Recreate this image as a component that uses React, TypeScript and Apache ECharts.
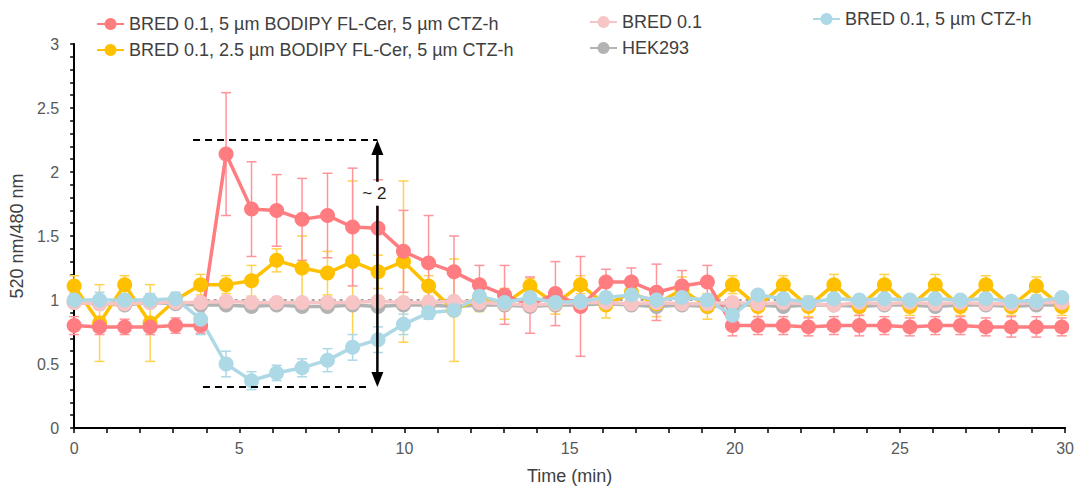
import React, { useEffect, useRef } from "react";
import * as echarts from "echarts";

// Time points (min)
const times = [
  0, 0.77, 1.53, 2.3, 3.07, 3.83, 4.6, 5.37, 6.13, 6.9, 7.67, 8.43, 9.2, 9.97,
  10.73, 11.5, 12.27, 13.03, 13.8, 14.57, 15.33, 16.1, 16.87, 17.63, 18.4,
  19.17, 19.93, 20.7, 21.47, 22.23, 23, 23.77, 24.53, 25.3, 26.07, 26.83,
  27.6, 28.37, 29.13, 29.9,
];

const redName = "BRED 0.1, 5 µm BODIPY FL-Cer, 5 µm CTZ-h";
const yellowName = "BRED 0.1, 2.5 µm BODIPY FL-Cer, 5 µm CTZ-h";
const pinkName = "BRED 0.1";
const grayName = "HEK293";
const blueName = "BRED 0.1, 5 µm CTZ-h";

const redVals = [
  0.8, 0.79, 0.79, 0.79, 0.8, 0.8, 2.14, 1.71, 1.7, 1.63, 1.66, 1.57, 1.56,
  1.38, 1.29, 1.22, 1.12, 1.04, 0.96, 1.05, 0.95, 1.14, 1.14, 1.06, 1.11,
  1.14, 0.8, 0.8, 0.8, 0.79, 0.8, 0.8, 0.8, 0.79, 0.8, 0.8, 0.79, 0.79, 0.79,
  0.79,
];
const redErr = [
  0.07, 0.06, 0.06, 0.06, 0.06, 0.06, 0.48, 0.37, 0.28, 0.32, 0.33, 0.46,
  0.38, 0.32, 0.37, 0.28, 0.15, 0.23, 0.22, 0.25, 0.39, 0.1, 0.11, 0.22, 0.12,
  0.13, 0.08, 0.07, 0.07, 0.07, 0.07, 0.08, 0.07, 0.07, 0.07, 0.07, 0.07,
  0.08, 0.08, 0.07,
];

const yellowVals = [
  1.11, 0.82, 1.12, 0.82, 1.0, 1.12, 1.12, 1.15, 1.31, 1.25, 1.21, 1.3, 1.22,
  1.3, 1.11, 0.92, 1.01, 0.97, 1.11, 0.97, 1.12, 0.96, 1.06, 0.97, 1.08, 0.95,
  1.12, 0.95, 1.12, 0.95, 1.12, 0.95, 1.12, 0.95, 1.12, 0.95, 1.12, 0.95,
  1.11, 0.95,
];
const yellowErr = [
  0.08, 0.3, 0.07, 0.3, 0.05, 0.08, 0.07, 0.12, 0.09, 0.25, 0.17, 0.63, 0.13,
  0.63, 0.08, 0.4, 0.1, 0.12, 0.06, 0.08, 0.07, 0.1, 0.08, 0.1, 0.1, 0.1,
  0.07, 0.08, 0.07, 0.08, 0.08, 0.07, 0.08, 0.07, 0.08, 0.07, 0.07, 0.07,
  0.07, 0.07,
];

const pinkVals = [
  0.98, 0.97, 0.97, 0.98, 0.98, 0.98, 0.99, 0.98, 0.98, 0.98, 0.98, 0.98,
  0.99, 0.98, 0.98, 0.99, 0.98, 0.97, 0.96, 0.97, 0.98, 0.98, 0.97, 0.98,
  0.97, 0.97, 0.98, 0.97, 0.98, 0.97, 0.96, 0.98, 0.97, 0.98, 0.97, 0.98,
  0.97, 0.97, 0.98, 0.98,
];
const pinkErr = [
  0.02, 0.02, 0.02, 0.02, 0.02, 0.02, 0.02, 0.02, 0.02, 0.02, 0.02, 0.02,
  0.02, 0.02, 0.02, 0.02, 0.02, 0.02, 0.02, 0.02, 0.02, 0.02, 0.02, 0.02,
  0.02, 0.02, 0.02, 0.02, 0.02, 0.02, 0.02, 0.02, 0.02, 0.02, 0.02, 0.02,
  0.02, 0.02, 0.02, 0.02,
];

const grayVals = [
  0.98, 0.97, 0.96, 0.98, 0.97, 0.96, 0.96, 0.95, 0.96, 0.95, 0.95, 0.96,
  0.95, 0.96, 0.96, 0.95, 0.96, 0.96, 0.95, 0.96, 0.96, 0.97, 0.96, 0.95,
  0.96, 0.95, 0.96, 0.96, 0.95, 0.96, 0.96, 0.95, 0.96, 0.96, 0.95, 0.96,
  0.96, 0.95, 0.96, 0.96,
];
const grayErr = [
  0.02, 0.02, 0.02, 0.02, 0.02, 0.02, 0.02, 0.02, 0.02, 0.02, 0.02, 0.02,
  0.02, 0.02, 0.02, 0.02, 0.02, 0.02, 0.02, 0.02, 0.02, 0.02, 0.02, 0.02,
  0.02, 0.02, 0.02, 0.02, 0.02, 0.02, 0.02, 0.02, 0.02, 0.02, 0.02, 0.02,
  0.02, 0.02, 0.02, 0.02,
];

const blueVals = [
  1.0, 1.0, 1.0, 1.0, 1.01, 0.85, 0.5, 0.37, 0.43, 0.47, 0.53, 0.63, 0.69,
  0.81, 0.9, 0.92, 1.03, 0.98, 1.02, 0.98, 0.99, 1.02, 1.04, 1.0, 1.02, 1.0,
  0.88, 1.04, 1.01, 0.98, 1.01, 1.0, 1.01, 1.0, 1.01, 1.0, 1.01, 0.99, 0.99,
  1.02,
];
const blueErr = [
  0.05, 0.06, 0.05, 0.05, 0.05, 0.12, 0.1, 0.07, 0.06, 0.07, 0.09, 0.1, 0.1,
  0.08, 0.05, 0.04, 0.04, 0.04, 0.03, 0.03, 0.03, 0.04, 0.03, 0.03, 0.03,
  0.03, 0.05, 0.03, 0.03, 0.03, 0.03, 0.03, 0.03, 0.03, 0.03, 0.03, 0.03,
  0.03, 0.03, 0.03,
];

// annotation anchors (data units)
const bracketTop = 2.25;
const bracketBottom = 0.32;
const bracketX = 9.18;
const topStart = 3.6;
const bottomStart = 3.9;
const bottomEnd = 8.95;
const labelY = 1.83;
const baselineY = 1.0;
const baselineStart = 3.8;
const baselineEnd = 30;

const FONT = "Liberation Sans, Arial, sans-serif";

export default function App() {
  const ref = useRef<HTMLDivElement>(null);

  useEffect(() => {
    const chart = echarts.init(ref.current!, null, { renderer: "svg" });

    const mkErr = (name: string, vals: number[], errs: number[], color: string) => ({
      type: "custom",
      name,
      silent: true,
      data: times.map((t, i) => [t, vals[i], errs[i]]),
      encode: { x: 0, y: 1 },
      renderItem: (_p: any, api: any) => {
        const x = api.value(0);
        const y = api.value(1);
        const e = api.value(2);
        const p1 = api.coord([x, y + e]);
        const p2 = api.coord([x, y - e]);
        const w = 5;
        const style = { stroke: color, lineWidth: 1.5 };
        return {
          type: "group",
          children: [
            { type: "line", shape: { x1: p1[0], y1: p1[1], x2: p2[0], y2: p2[1] }, style },
            { type: "line", shape: { x1: p1[0] - w, y1: p1[1], x2: p1[0] + w, y2: p1[1] }, style },
            { type: "line", shape: { x1: p2[0] - w, y1: p2[1], x2: p2[0] + w, y2: p2[1] }, style },
          ],
        };
      },
    });

    const mkLine = (name: string, vals: number[], color: string) => ({
      type: "line",
      name,
      data: times.map((t, i) => [t, vals[i]]),
      symbol: "circle",
      symbolSize: 15,
      showSymbol: true,
      itemStyle: { color },
      lineStyle: { color, width: 3.5 },
      emphasis: { disabled: true },
    });

    const legendText = { fontSize: 18, color: "#404040", fontFamily: FONT };
    const legendBase = {
      orient: "vertical",
      itemGap: 8,
      itemWidth: 27,
      itemHeight: 15,
      textStyle: legendText,
      selectedMode: false,
    };

    chart.setOption({
      animation: false,
      backgroundColor: "#ffffff",
      textStyle: { fontFamily: FONT },
      grid: { left: 74, right: 9, top: 44, bottom: 59, containLabel: false },
      legend: [
        { ...legendBase, data: [redName, yellowName], left: 91, top: 10 },
        { ...legendBase, data: [pinkName, grayName], left: 584, top: 8 },
        { ...legendBase, data: [blueName], left: 807, top: 5 },
      ],
      xAxis: {
        type: "value",
        min: 0,
        max: 30,
        interval: 5,
        name: "Time (min)",
        nameLocation: "middle",
        nameGap: 39,
        nameTextStyle: { fontSize: 18, color: "#404040", fontFamily: FONT },
        axisLine: { lineStyle: { color: "#000", width: 2 } },
        axisTick: { show: true, length: 5, lineStyle: { color: "#000", width: 1.5 } },
        minorTick: { show: true, splitNumber: 5, length: 5, lineStyle: { color: "#000", width: 1.5 } },
        splitLine: { show: false },
        minorSplitLine: { show: false },
        axisLabel: { fontSize: 16, color: "#595959", margin: 12, fontFamily: FONT },
      },
      yAxis: {
        type: "value",
        min: 0,
        max: 3,
        interval: 0.5,
        name: "520 nm/480 nm",
        nameLocation: "middle",
        nameGap: 44,
        nameTextStyle: { fontSize: 18, color: "#404040", fontFamily: FONT },
        axisLine: { show: true, lineStyle: { color: "#000", width: 2 } },
        axisTick: { show: true, length: 4, lineStyle: { color: "#000", width: 1.5 } },
        minorTick: { show: true, splitNumber: 5, length: 4, lineStyle: { color: "#000", width: 1.5 } },
        splitLine: { show: false },
        minorSplitLine: { show: false },
        axisLabel: { fontSize: 16, color: "#595959", margin: 15, fontFamily: FONT },
      },
      series: [
        {
          type: "custom",
          name: "baseline",
          silent: true,
          data: [[baselineStart, baselineY]],
          encode: { x: 0, y: 1 },
          renderItem: (_p: any, api: any) => {
            const a = api.coord([baselineStart, baselineY]);
            const b = api.coord([baselineEnd, baselineY]);
            return {
              type: "line",
              shape: { x1: a[0], y1: a[1], x2: b[0], y2: b[1] },
              style: { stroke: "#444", lineWidth: 1.2, lineDash: [3, 4] },
            };
          },
        },
        mkErr("errGray", grayVals, grayErr, "#BDBDBD"),
        mkErr("errYellow", yellowVals, yellowErr, "#FFD34D"),
        mkErr("errRed", redVals, redErr, "#FF959B"),
        mkErr("errPink", pinkVals, pinkErr, "#F7CACA"),
        mkErr("errBlue", blueVals, blueErr, "#ADD8E6"),
        mkLine(grayName, grayVals, "#B3B3B3"),
        mkLine(yellowName, yellowVals, "#FFC000"),
        mkLine(redName, redVals, "#FF7C80"),
        mkLine(pinkName, pinkVals, "#F7C5C5"),
        mkLine(blueName, blueVals, "#ADD8E6"),
        {
          type: "custom",
          name: "annotation",
          silent: true,
          z: 10,
          data: [[bracketX, bracketTop]],
          encode: { x: 0, y: 1 },
          renderItem: (_p: any, api: any) => {
            const top = api.coord([bracketX, bracketTop]);
            const bot = api.coord([bracketX, bracketBottom]);
            const tl = api.coord([topStart, bracketTop]);
            const bl = api.coord([bottomStart, bracketBottom]);
            const br = api.coord([bottomEnd, bracketBottom]);
            const lab = api.coord([bracketX, labelY]);
            const ah = 15;
            const aw = 6;
            const dash = { stroke: "#000", lineWidth: 2, lineDash: [7, 5] };
            return {
              type: "group",
              children: [
                { type: "line", shape: { x1: tl[0], y1: tl[1], x2: top[0], y2: top[1] }, style: dash },
                { type: "line", shape: { x1: bl[0], y1: bl[1], x2: br[0], y2: br[1] }, style: dash },
                {
                  type: "line",
                  shape: { x1: top[0], y1: top[1] + ah - 2, x2: bot[0], y2: bot[1] - ah + 2 },
                  style: { stroke: "#000", lineWidth: 2.5 },
                },
                {
                  type: "polygon",
                  shape: { points: [[top[0], top[1]], [top[0] - aw, top[1] + ah], [top[0] + aw, top[1] + ah]] },
                  style: { fill: "#000" },
                },
                {
                  type: "polygon",
                  shape: { points: [[bot[0], bot[1]], [bot[0] - aw, bot[1] - ah], [bot[0] + aw, bot[1] - ah]] },
                  style: { fill: "#000" },
                },
                {
                  type: "rect",
                  shape: { x: lab[0] - 17, y: lab[1] - 12, width: 32, height: 24 },
                  style: { fill: "#fff" },
                },
                {
                  type: "text",
                  x: lab[0] - 3,
                  y: lab[1],
                  style: {
                    text: "~ 2",
                    fill: "#222",
                    fontSize: 17,
                    fontFamily: FONT,
                    align: "center",
                    verticalAlign: "middle",
                  },
                },
              ],
            };
          },
        },
      ],
    });

    return () => chart.dispose();
  }, []);

  return (
    <div
      ref={ref}
      style={{ position: "fixed", left: 0, top: 0, width: 1077, height: 490, background: "#fff" }}
    />
  );
}
